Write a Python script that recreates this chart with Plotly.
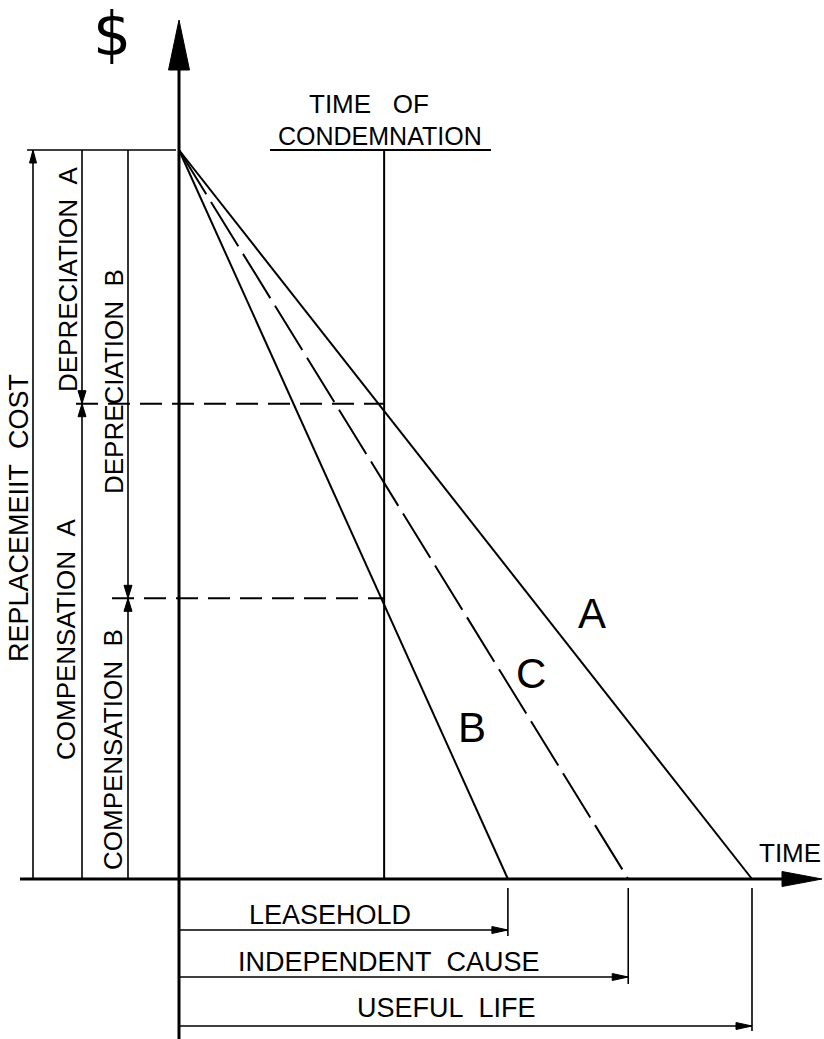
import plotly.graph_objects as go

# ---------------- data (diagram units) ----------------
replacement_cost = 100.0                 # $ at time 0 (percent of replacement cost)
line_names = ["A", "C", "B"]
line_end_times = [10.0, 7.84, 5.74]      # useful life, independent cause, leasehold
line_dashes = ["solid", "52px,9px", "solid"]
condemnation_time = 3.58
compensation_names = ["A", "B"]
compensation_values = [65.2, 38.5]       # value remaining at condemnation
bottom_labels = ["LEASEHOLD", "INDEPENDENT\u00a0\u00a0CAUSE", "USEFUL\u00a0\u00a0LIFE"]
bottom_ends = [5.74, 7.84, 10.0]

# ---------------- layout / pixel mapping ----------------
W, H = 824, 1039
OX, OY = 179, 879          # pixel of origin
SX = 57.3                  # px per time unit
SY = 7.29                  # px per value unit
FONT = "Liberation Sans"


def X(px):
    return (px - OX) / SX


def Y(py):
    return (OY - py) / SY


def dx(p):
    return p / SX


def dy(p):
    return p / SY


shapes = []


def seg(x0, y0, x1, y1, w=2, dash="solid"):
    shapes.append(dict(type="line", xref="x", yref="y", x0=x0, y0=y0, x1=x1, y1=y1,
                       line=dict(color="black", width=w, dash=dash), layer="above"))


def arrow(xt, yt, direction, length=13, half=4):
    # xt, yt in data coords; direction in 'up','down','left','right' (screen)
    if direction == "up":
        pts = [(xt, yt), (xt - dx(half), yt - dy(length)), (xt + dx(half), yt - dy(length))]
    elif direction == "down":
        pts = [(xt, yt), (xt - dx(half), yt + dy(length)), (xt + dx(half), yt + dy(length))]
    elif direction == "right":
        pts = [(xt, yt), (xt - dx(length), yt + dy(half)), (xt - dx(length), yt - dy(half))]
    else:
        pts = [(xt, yt), (xt + dx(length), yt + dy(half)), (xt + dx(length), yt - dy(half))]
    path = "M " + " L ".join(f"{a},{b}" for a, b in pts) + " Z"
    shapes.append(dict(type="path", xref="x", yref="y", path=path,
                       fillcolor="black", line=dict(color="black", width=1), layer="above"))


fig = go.Figure()

# depreciation lines A, C, B
for name, t_end, dsh in zip(line_names, line_end_times, line_dashes):
    fig.add_trace(go.Scatter(x=[0, t_end], y=[replacement_cost, 0], mode="lines",
                             line=dict(color="black", width=2, dash=dsh),
                             hoverinfo="skip", showlegend=False))

# dashed compensation levels
dash_start_px = [76, 112]
for v, sp in zip(compensation_values, dash_start_px):
    fig.add_trace(go.Scatter(x=[X(sp), condemnation_time], y=[v, v], mode="lines",
                             line=dict(color="black", width=2, dash="22px,10px"),
                             hoverinfo="skip", showlegend=False))

# time of condemnation vertical
seg(condemnation_time, 0, condemnation_time, replacement_cost, w=2)
seg(X(270), Y(150), X(491), Y(150), w=2)

# axes
seg(0, Y(H), 0, Y(68), w=3)
arrow(0, Y(20), "up", length=50, half=10.5)
seg(X(20), 0, X(786), 0, w=3)
arrow(X(822), 0, "right", length=40, half=7.5)

# top reference line
seg(X(27), replacement_cost, X(176), replacement_cost, w=1.6)

# left dimension lines
colA, colB, colR = X(82), X(128), X(33)
seg(colR, 0, colR, replacement_cost, w=1.6)
arrow(colR, replacement_cost, "up", length=13, half=3.5)

seg(colA, 0, colA, replacement_cost, w=1.6)
arrow(colA, compensation_values[0], "down")
arrow(colA, compensation_values[0], "up")

seg(colB, 0, colB, replacement_cost, w=1.6)
arrow(colB, compensation_values[1], "down")
arrow(colB, compensation_values[1], "up")

# bottom dimension arrows
arrow_rows_py = [930, 977, 1026]
tick_bottom_py = [936, 984, 1031]
for t, py, tb in zip(bottom_ends, arrow_rows_py, tick_bottom_py):
    seg(0, Y(py), t, Y(py), w=1.6)
    arrow(t, Y(py), "right", length=16, half=3.5)
    seg(t, Y(888), t, Y(tb), w=1.6)

# ---------------- text ----------------
ann = []


def txt(s, px, py, size=26, angle=0, family=FONT):
    ann.append(dict(text=s, x=X(px), y=Y(py), xref="x", yref="y", showarrow=False,
                    textangle=angle, xanchor="center", yanchor="middle",
                    font=dict(family=family, size=size, color="black")))


txt("$", 112, 34, size=60, family="DejaVu Sans")
txt("TIME\u00a0\u00a0\u00a0OF", 369, 104, size=26)
txt("CONDEMNATION", 380, 136, size=25)
txt("TIME", 790, 853, size=26)

for name, (px, py) in zip(line_names, [(592, 613), (531, 673), (472, 727)]):
    txt(name, px, py, size=42)

txt("REPLACEMEIIT\u00a0\u00a0COST", 19, 518, size=27, angle=-90)
txt("DEPRECIATION\u00a0\u00a0A", 68, 279, size=26, angle=-90)
txt("COMPENSATION\u00a0\u00a0A", 66, 640, size=26, angle=-90)
txt("DEPRECIATION\u00a0\u00a0B", 114, 382, size=26, angle=-90)
txt("COMPENSATION\u00a0\u00a0B", 113, 750, size=26, angle=-90)

for s, px, py in zip(bottom_labels, [330, 389, 446], [915, 962, 1008]):
    txt(s, px, py, size=27)

fig.update_layout(
    width=W, height=H, autosize=False,
    margin=dict(l=0, r=0, t=0, b=0, pad=0),
    paper_bgcolor="white", plot_bgcolor="white",
    xaxis=dict(range=[X(0), X(W)], visible=False, fixedrange=True),
    yaxis=dict(range=[Y(H), Y(0)], visible=False, fixedrange=True),
    shapes=shapes, annotations=ann, showlegend=False,
)

fig.write_html("out.html", config={"displayModeBar": False},
               post_script="document.body.style.margin='0';document.body.style.overflow='hidden';")
